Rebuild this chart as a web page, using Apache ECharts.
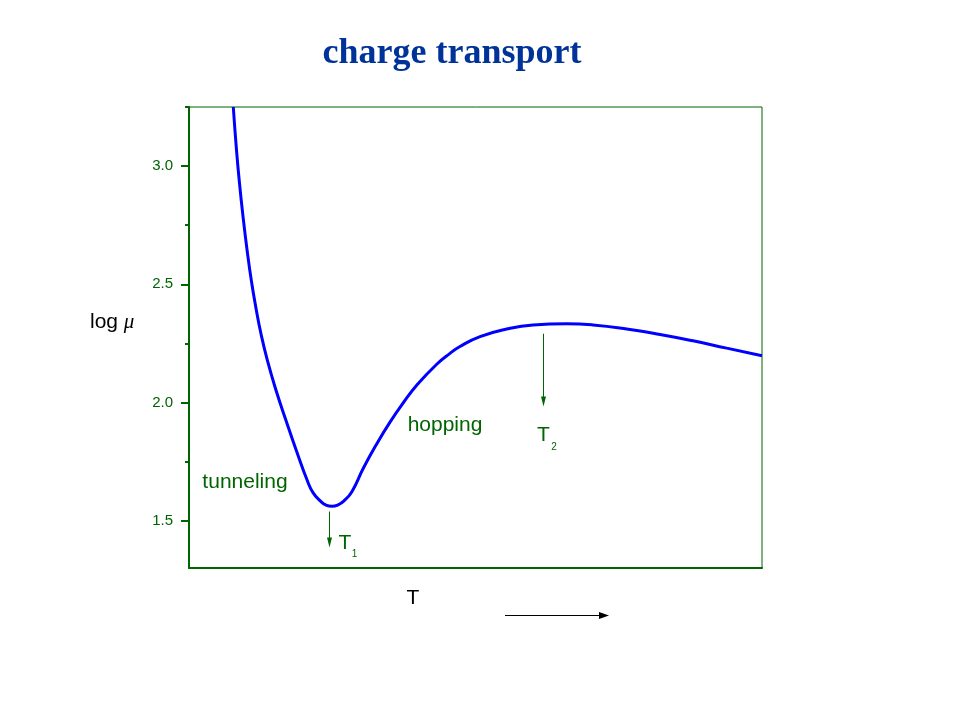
<!DOCTYPE html>
<html>
<head>
<meta charset="utf-8">
<style>html,body{margin:0;padding:0;background:#fff}#c{width:960px;height:720px}</style>
<script src="https://cdn.jsdelivr.net/npm/echarts@6/dist/echarts.min.js"></script>
</head>
<body>
<div id="c"></div>
<script>
// ---- data ----
const tValues = [7.73, 8.29, 8.81, 9.44, 10.14, 10.87, 11.66, 12.55, 13.68, 15.20, 16.93, 18.73, 20.66, 21.64, 22.86, 23.91, 24.96, 26.00, 27.05, 28.45, 30.42, 32.76, 35.08, 37.40, 39.74, 43.23, 45.55, 47.29, 50.79, 55.44, 60.03, 65.92, 70.51, 76.39, 82.20, 87.96, 93.84, 100];
const logMu   = [3.250, 3.068, 2.928, 2.784, 2.644, 2.517, 2.403, 2.292, 2.178, 2.051, 1.924, 1.797, 1.669, 1.619, 1.585, 1.566, 1.561, 1.567, 1.584, 1.624, 1.722, 1.825, 1.917, 1.999, 2.073, 2.162, 2.208, 2.237, 2.279, 2.311, 2.328, 2.333, 2.328, 2.311, 2.288, 2.261, 2.230, 2.198];
const yTickValues  = [1.5, 2.0, 2.5, 3.0];
const yMinorValues = [1.75, 2.25, 2.75, 3.25];
const yMin = 1.3, yMax = 3.25;
const xMin = 0, xMax = 100;
// annotation texts inside the plot (data coordinates)
const noteTexts = ['tunneling', 'hopping', 'T', '1', 'T', '2'];
const noteX     = [9.77, 44.68, 27.2, 28.9, 61.85, 63.7];
const noteY     = [1.661, 1.905, 1.407, 1.357, 1.863, 1.811];
const noteSizes = [21, 21, 21, 10, 21, 10];
// arrows at T1 and T2 (data coordinates: x, y start, y tip)
const arrowX      = [24.49, 61.84];
const arrowYStart = [1.539, 2.291];
const arrowYTip   = [1.387, 1.983];

const GREEN = '#006400';
const chart = echarts.init(document.getElementById('c'), null, {renderer: 'canvas'});

const lineData = tValues.map((t, i) => [t, logMu[i]]);
const noteData = noteTexts.map((s, i) => ({
  value: [noteX[i], noteY[i]],
  label: {formatter: s, fontSize: noteSizes[i]}
}));

chart.setOption({
  animation: false,
  backgroundColor: '#ffffff',
  grid: {left: 189, right: 198, top: 107, bottom: 152, show: true, borderColor: GREEN, borderWidth: 1, backgroundColor: 'transparent', containLabel: false},
  xAxis: {
    type: 'value', min: xMin, max: xMax,
    axisLine: {show: true, onZero: false, lineStyle: {color: GREEN, width: 2}},
    axisTick: {show: false}, axisLabel: {show: false}, splitLine: {show: false}
  },
  yAxis: [{
    type: 'value', min: yMin, max: yMax, position: 'left',
    axisLine: {show: true, onZero: false, lineStyle: {color: GREEN, width: 2}},
    axisTick: {show: true, length: 8, lineStyle: {color: GREEN, width: 2}, customValues: yTickValues},
    axisLabel: {show: true, customValues: yTickValues, formatter: v => v.toFixed(1), color: GREEN, fontFamily: 'Liberation Sans, Arial, sans-serif', fontSize: 15, margin: 16},
    splitLine: {show: false}
  }, {
    type: 'value', min: yMin, max: yMax, position: 'left', offset: 0,
    axisLine: {show: false},
    axisTick: {show: true, length: 4, lineStyle: {color: GREEN, width: 2}, customValues: yMinorValues},
    axisLabel: {show: false}, splitLine: {show: false}
  }],
  series: [{
    type: 'line', data: lineData, smooth: 0.5, showSymbol: false, symbol: 'none', clip: true,
    lineStyle: {color: '#0000ff', width: 3}
  }, {
    type: 'scatter', data: noteData, symbolSize: 0, silent: true,
    itemStyle: {opacity: 1},
    label: {show: true, position: 'inside', color: GREEN, opacity: 1, fontFamily: 'Liberation Sans, Arial, sans-serif', align: 'center', verticalAlign: 'middle'}
  }]
});

// annotation graphics
const g = [];
arrowX.forEach((x, i) => {
  const p0 = chart.convertToPixel({gridIndex: 0}, [x, arrowYStart[i]]);
  const p1 = chart.convertToPixel({gridIndex: 0}, [x, arrowYTip[i]]);
  const px = Math.round(p0[0]) + 0.5;
  g.push({type: 'line', shape: {x1: px, y1: p0[1], x2: px, y2: p1[1] - 8}, style: {stroke: GREEN, lineWidth: 1}});
  g.push({type: 'polygon', shape: {points: [[px - 2.5, p1[1] - 10], [px + 2.5, p1[1] - 10], [px, p1[1]]]}, style: {fill: GREEN}});
});
// horizontal "increasing T" arrow below the axis
g.push({type: 'line', shape: {x1: 505, y1: 615.5, x2: 600, y2: 615.5}, style: {stroke: '#000', lineWidth: 1}});
g.push({type: 'polygon', shape: {points: [[599, 612], [599, 619], [609, 615.5]]}, style: {fill: '#000'}});
// axis titles
g.push({type: 'text', x: 413, y: 598.5, style: {text: 'T', fill: '#000', font: '21px "Liberation Sans", Arial, sans-serif', align: 'center', verticalAlign: 'middle'}});
g.push({type: 'text', x: 90, y: 322.5, style: {
  text: '{a|log }{m|μ}', fill: '#000', align: 'left', verticalAlign: 'middle',
  rich: {a: {fontFamily: '"Liberation Sans", Arial, sans-serif', fontSize: 21, fill: '#000'}, m: {fontFamily: '"Liberation Serif", serif', fontStyle: 'italic', fontSize: 21, fill: '#000'}}
}});
// title
g.push({type: 'text', x: 452, y: 54, style: {text: 'charge transport', fill: '#003399', font: 'bold 36px "Liberation Serif", "Times New Roman", serif', align: 'center', verticalAlign: 'middle'}});
chart.setOption({graphic: g});
</script>
</body>
</html>
